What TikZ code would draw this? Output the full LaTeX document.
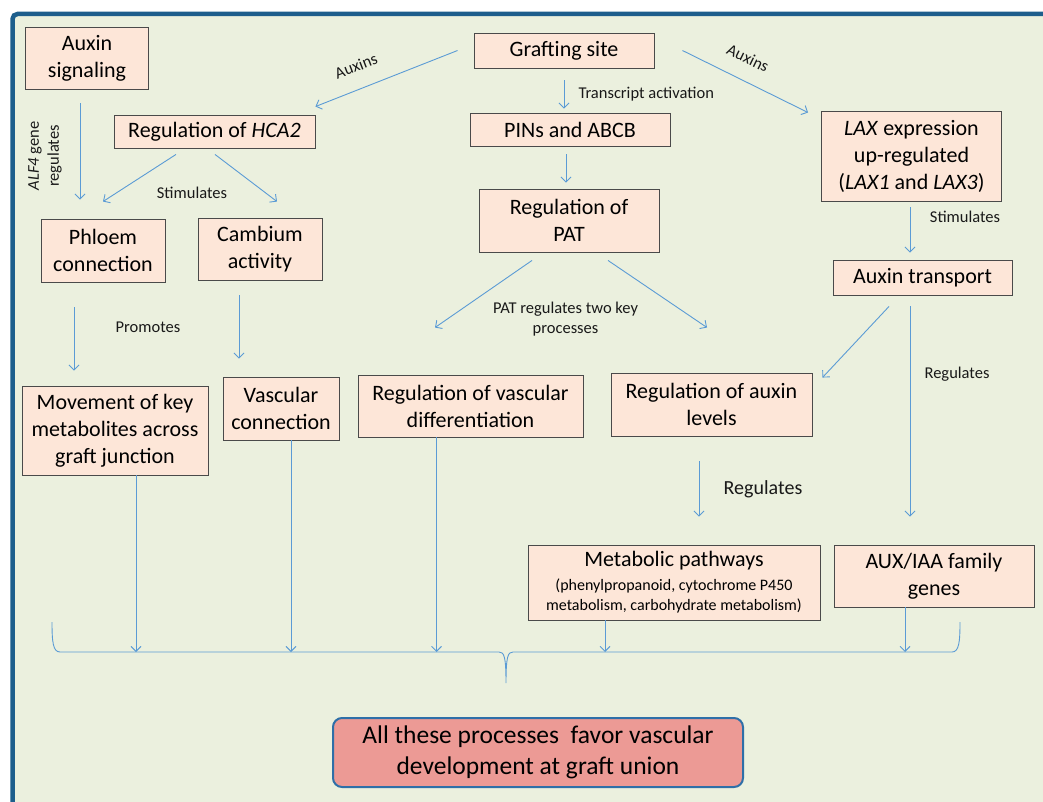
\documentclass[tikz,border=0pt]{standalone}
\usepackage{fontspec}
\setmainfont{Carlito}
\usetikzlibrary{calc,positioning,arrows.meta}
\definecolor{panelbg}{HTML}{EBF0DE}
\definecolor{panelblue}{HTML}{1D5E8C}
\definecolor{boxfill}{HTML}{FDE6D8}
\definecolor{boxline}{HTML}{4A4A4A}
\definecolor{flowblue}{HTML}{5B9BD5}
\definecolor{resultfill}{HTML}{EC9A95}
\definecolor{resultline}{HTML}{2E6FA8}
\def\boxfont{\fontsize{22}{27}\selectfont}
\def\subfont{\fontsize{16}{20}\selectfont}
\tikzset{
  box/.style={draw=boxline, fill=boxfill, line width=0.9pt, align=center,
              inner sep=2pt, font=\boxfont},
  flow/.style={draw=flowblue, line width=0.9pt,
               -{Straight Barb[length=5pt,width=10pt]}},
  lbl/.style={font=\fontsize{16.5}{20}\selectfont, text=black!90},
  result/.style={draw=resultline, line width=2pt, fill=resultfill,
                 rounded corners=9pt, align=center,
                 font=\fontsize{25.5}{31}\selectfont},
}

\begin{document}
\begin{tikzpicture}[x=1pt, y=-1pt]
  \useasboundingbox (0,0) rectangle (1043,802);
  \fill[white] (0,0) rectangle (1043,802);
  \begin{scope}
    \clip (0,0) rectangle (1043,802);
    \draw[panelblue, line width=4.5pt, fill=panelbg, rounded corners=5pt]
      (12.5,14) rectangle (1070,830);
  \end{scope}

  % boxes
  \node[box, minimum width=123pt, minimum height=62pt] (auxsig) at (87,58) {Auxin\\signaling};
  \node[box, minimum width=180pt, minimum height=35pt] (graft) at (564,50.5) {Grafting site};
  \node[box, minimum width=201pt, minimum height=33pt] (hca) at (214.5,131.5) {Regulation of \textit{HCA2}};
  \node[box, minimum width=200pt, minimum height=33pt] (pins) at (570,129.5) {PINs and ABCB};
  \node[box, minimum width=180pt, minimum height=90pt] (lax) at (911.5,156.5)
    {\textit{LAX} expression\\up-regulated\\(\textit{LAX1} and \textit{LAX3})};
  \node[box, minimum width=180pt, minimum height=63pt] (pat) at (569,220.5) {Regulation of\\PAT};
  \node[box, minimum width=124pt, minimum height=63pt] (phloem) at (103,250.5) {Phloem\\connection};
  \node[box, minimum width=124pt, minimum height=62pt] (cambium) at (260,249) {Cambium\\activity};
  \node[box, minimum width=179pt, minimum height=35pt] (auxtr) at (922.5,277.5) {Auxin transport};
  \node[box, minimum width=186pt, minimum height=89pt] (movement) at (115,430.5)
    {Movement of key\\metabolites across\\graft junction};
  \node[box, minimum width=116pt, minimum height=63pt] (vascon) at (281,408.5) {Vascular\\connection};
  \node[box, minimum width=225pt, minimum height=62pt] (vasdiff) at (470.5,406) {Regulation of vascular\\differentiation};
  \node[box, minimum width=201pt, minimum height=63pt] (auxlev) at (711.5,404.5) {Regulation of auxin\\levels};
  \node[box, minimum width=292pt, minimum height=75pt] (metab) at (674,582.5)
    {Metabolic pathways\\[-3pt]{\subfont (phenylpropanoid, cytochrome P450}\\[-7pt]{\subfont metabolism, carbohydrate metabolism)}};
  \node[box, minimum width=200pt, minimum height=62pt] (auxiaa) at (934,576) {AUX/IAA family\\genes};
  \node[result, minimum width=410pt, minimum height=69pt] (final) at (538,752.5)
    {All these processes\ \ favor vascular\\development at graft union};

  % labels
  \node[lbl, rotate=21] (auxinsl) at (356,66) {Auxins};
  \node[lbl, rotate=-26] (auxinsr) at (748,58) {Auxins};
  \node[lbl, anchor=west] (transcript) at (575,94) {Transcript activation};
  \node[lbl] (stimhca) at (192,193) {Stimulates};
  \node[lbl, rotate=90, align=center] (alf) at (45,156) {\textit{ALF4} gene\\regulates};
  \node[lbl] (stimlax) at (965,217) {Stimulates};
  \node[lbl, align=center] (patlbl) at (565.5,319) {PAT regulates two key\\processes};
  \node[lbl] (promotes) at (148,327) {Promotes};
  \node[lbl] (regaux) at (957,374) {Regulates};
  \node[lbl, font=\fontsize{20}{24}\selectfont] (reglev) at (763,489) {Regulates};

  % arrows
  \draw[flow] ($(graft.west)+(-16,0)$) -- ($(hca.north east)+(0,-8)$);
  \draw[flow] ($(graft.east)+(28,0)$) -- ($(lax.north west)+(-13,1.5)$);
  \draw[flow] ($(graft.south)+(0,12)$) -- ($(pins.north)+(-6,-4)$);
  \draw[flow] ($(pins.south)+(-4,8)$) -- ($(pat.north)+(-3,-6)$);
  \draw[flow] ($(pat.south)+(-37,8)$) -- ($(vasdiff.north)+(-35.5,-47)$);
  \draw[flow] ($(pat.south)+(39,8)$) -- ($(auxlev.north)+(-4.5,-45)$);
  \draw[flow] ($(hca.south)+(-38.5,6)$) -- ($(phloem.north)+(0,-17)$);
  \draw[flow] ($(hca.south)+(0.5,6)$) -- ($(cambium.north)+(17,-16)$);
  \draw[flow] ($(auxsig.south)+(-7,14)$) -- ($(phloem.north)+(-23,-19)$);
  \draw[flow] ($(phloem.south)+(-29,25)$) -- ($(movement.north)+(-41,-15)$);
  \draw[flow] ($(cambium.south)+(-21,15)$) -- ($(vascon.north)+(-42,-18)$);
  \draw[flow] ($(lax.south)+(-1.5,5.5)$) -- ($(auxtr.north)+(-12.5,-7)$);
  \draw[flow] ($(auxtr.south)+(-33.5,11)$) -- ($(auxlev.north east)+(10,5)$);
  \draw[flow] ($(auxtr.south)+(-12.5,11)$) -- ($(auxiaa.north)+(-24,-28)$);
  \draw[flow] ($(auxlev.south)+(-12.5,25)$) -- ($(metab.north)+(25,-28)$);

  % brace
  \coordinate (braceL) at (52,622);
  \coordinate (braceR) at (960,622);
  \coordinate (bracetip) at (506,683);
  \coordinate (braceline) at (506,652);
  \draw[flowblue, line width=0.9pt] (braceL) .. controls (52,642) and (53,652) .. (60,652)
    -- (499,652) .. controls (504,652) and (506,656) .. (bracetip)
    .. controls (506,656) and (508,652) .. (513,652)
    -- (952,652) .. controls (959,652) and (960,642) .. (braceR);

  \coordinate (inmov) at ($(movement.south)+(21,0)$);
  \coordinate (invas) at ($(vascon.south)+(10,0)$);
  \coordinate (indiff) at ($(vasdiff.south)+(-34,0)$);
  \coordinate (inmet) at ($(metab.south)+(-69,0)$);
  \coordinate (iniaa) at ($(auxiaa.south)+(-29,0)$);
  \foreach \src in {inmov,invas,indiff,inmet,iniaa}
    \draw[flow] (\src) -- (\src |- braceline);
\end{tikzpicture}
\end{document}
